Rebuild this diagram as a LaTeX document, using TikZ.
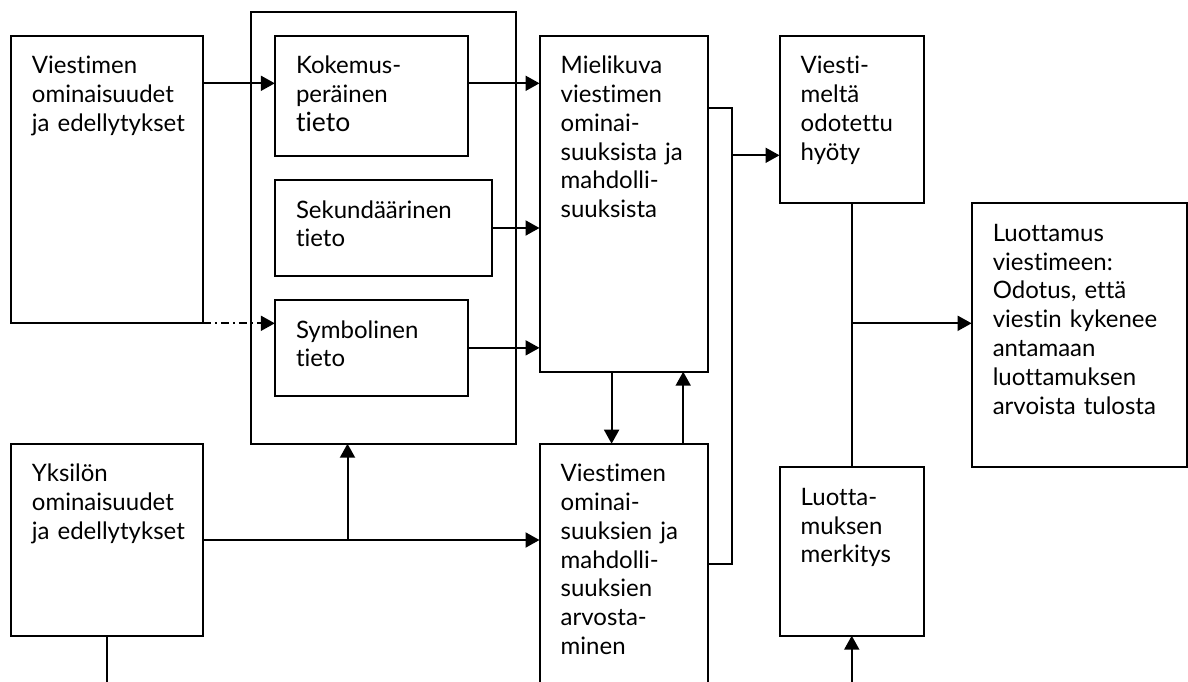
\documentclass[tikz,border=0pt]{standalone}
\usepackage{fontspec}
\setmainfont{Lato}[Ligatures={NoCommon,NoRare,NoContextual},RawFeature={-liga;-dlig;-clig}]
\usetikzlibrary{arrows.meta,calc}
\newcommand\mybox[5]{\node[box,minimum width={#4-#2},minimum height={#5-#3}] (#1) at (#2,#3) {};}
\begin{document}
\begin{tikzpicture}[x=1pt,y=-1pt,
  box/.style={draw, line width=2pt, inner sep=0pt, outer sep=0pt, anchor=north west},
  txt/.style={anchor=base west, inner sep=0pt, text width=230pt, align=left, font=\fontsize{24}{28.8}\selectfont},
  conn/.style={line width=2pt},
  arr/.style={line width=2pt, -{Triangle[length=14pt,width=15pt]}},
  dashdot/.style={line width=2pt, dash pattern=on 8pt off 4pt on 2pt off 4pt, -{Triangle[length=14pt,width=15pt]}}]
\useasboundingbox (0,0) rectangle (1188,681);
\clip (0,0) rectangle (1188,681);
% boxes
\mybox{O}{251}{11.7}{515.5}{443.7}
\mybox{A}{10.7}{35.7}{202.8}{323.3}
\mybox{K}{274.8}{35.7}{467.7}{155.7}
\mybox{S}{274.8}{180}{491.8}{276}
\mybox{Sy}{274.8}{300}{467.7}{395.7}
\mybox{M}{539.5}{35.7}{707.5}{371.7}
\mybox{V}{779.5}{35.7}{924}{203.3}
\mybox{L}{971.6}{203.3}{1186.8}{467.3}
\mybox{B}{10.7}{443.7}{202.8}{635.7}
\mybox{R}{539.5}{443.7}{707.5}{720}
\mybox{LM}{779.5}{467.3}{924}{635.7}
% texts
\node[txt] (tA) at ($(A.north west)+(21,38)$) {Viestimen\\ominaisuudet\\ja edellytykset};
\node[txt] (tK) at ($(K.north west)+(21,38)$) {Kokemus-\\peräinen\\{\fontsize{26.5}{28.8}\selectfont tieto}};
\node[txt] (tS) at ($(S.north west)+(21,38)$) {Sekundäärinen\\tieto};
\node[txt] (tSy) at ($(Sy.north west)+(21,38)$) {Symbolinen\\tieto};
\node[txt] (tM) at ($(M.north west)+(21,38)$) {Mielikuva\\viestimen\\ominai-\\suuksista ja\\mahdolli-\\suuksista};
\node[txt] (tV) at ($(V.north west)+(21,38)$) {Viesti-\\meltä\\odotettu\\hyöty};
\node[txt] (tL) at ($(L.north west)+(21,38)$) {Luottamus\\viestimeen:\\Odotus, että\\viestin kykenee\\antamaan\\luottamuksen\\arvoista tulosta};
\node[txt] (tB) at ($(B.north west)+(21,38)$) {Yksilön\\ominaisuudet\\ja edellytykset};
\node[txt] (tR) at ($(R.north west)+(21,38)$) {Viestimen\\ominai-\\suuksien ja\\mahdolli-\\suuksien\\arvosta-\\minen};
\node[txt] (tLM) at ($(LM.north west)+(21,38)$) {Luotta-\\muksen\\merkitys};
% connectors
\coordinate (y1) at (0,83.3);
\draw[arr] (A.east |- y1) -- (K.west |- y1);
\draw[arr] (K.east |- y1) -- (M.west |- y1);
\draw[arr] (S.east) -- (M.west |- S.east);
\draw[arr] (Sy.east) -- (M.west |- Sy.east);
\draw[dashdot] (A.south east) -- (Sy.west |- A.south east);
\coordinate (y2) at (0,540);
\coordinate (j1) at (347.5,540);
\draw[arr] (B.east |- y2) -- (R.west |- y2);
\draw[arr] (j1) -- (j1 |- O.south);
\coordinate (bB) at (0,700);
\draw[conn] (B.south) -- (B.south |- bB);
\coordinate (xd) at (611.6,0);
\coordinate (xu) at (683.2,0);
\draw[arr] (M.south -| xd) -- (R.north -| xd);
\draw[arr] (R.north -| xu) -- (M.south -| xu);
\coordinate (bus) at (731.8,107.7);
\coordinate (y3) at (0,564);
\draw[conn] (M.east |- bus) -- (bus) -- (bus |- y3) -- (R.east |- y3);
\coordinate (y4) at (0,155.3);
\draw[arr] (bus |- y4) -- (V.west |- y4);
\draw[conn] (V.south) -- (LM.north);
\coordinate (y5) at (0,323.3);
\draw[arr] (V.south |- y5) -- (L.west |- y5);
\draw[arr] (LM.south |- bB) -- (LM.south);
\end{tikzpicture}
\end{document}
